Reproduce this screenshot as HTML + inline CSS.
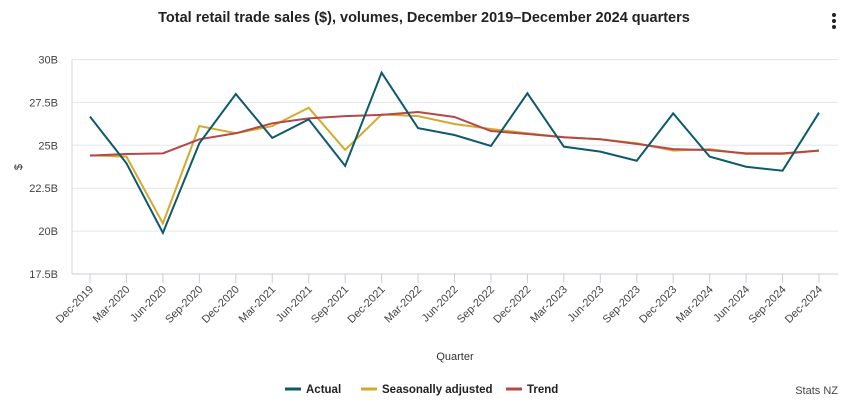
<!DOCTYPE html>
<html><head><meta charset="utf-8"><style>
body{margin:0;background:#fff;font-family:"Liberation Sans",sans-serif;}
svg text{font-family:"Liberation Sans",sans-serif;}
</style></head><body>
<svg width="848" height="400" xmlns="http://www.w3.org/2000/svg">
<text x="424" y="22" text-anchor="middle" font-size="14.5" font-weight="bold" fill="#222">Total retail trade sales ($), volumes, December 2019–December 2024 quarters</text>
<g fill="#222"><circle cx="834" cy="15" r="2"/><circle cx="834" cy="21" r="2"/><circle cx="834" cy="27" r="2"/></g>
<g id="grid"></g><g id="xaxis"></g><g id="series"></g>
<text x="22" y="167" transform="rotate(-90 22 167)" text-anchor="middle" font-size="11" fill="#333">$</text>
<text x="455" y="360" text-anchor="middle" font-size="11" fill="#333">Quarter</text>
<g font-size="11.5" font-weight="bold" fill="#222">
<g><line x1="285" y1="389" x2="301" y2="389" stroke="#0d5a6d" stroke-width="3"/><text x="306" y="393">Actual</text></g>
<g><line x1="361" y1="389" x2="377" y2="389" stroke="#d4aa2c" stroke-width="3"/><text x="382" y="393">Seasonally adjusted</text></g>
<g><line x1="506" y1="389" x2="522" y2="389" stroke="#b5474b" stroke-width="3"/><text x="527" y="393">Trend</text></g>
</g>
<text x="838" y="394" text-anchor="end" font-size="11" fill="#444">Stats NZ</text>
</svg>
<script>
const categories=["Dec-2019","Mar-2020","Jun-2020","Sep-2020","Dec-2020","Mar-2021","Jun-2021","Sep-2021","Dec-2021","Mar-2022","Jun-2022","Sep-2022","Dec-2022","Mar-2023","Jun-2023","Sep-2023","Dec-2023","Mar-2024","Jun-2024","Sep-2024","Dec-2024"];
const actual=[26.67,23.95,19.9,25.12,27.99,25.43,26.51,23.8,29.23,26.0,25.6,24.96,28.03,24.92,24.63,24.1,26.86,24.34,23.75,23.52,26.9];
const seasonal=[24.42,24.34,20.45,26.12,25.7,26.12,27.19,24.73,26.8,26.7,26.24,25.95,25.7,25.47,25.35,25.12,24.69,24.78,24.49,24.49,24.69];
const trend=[24.4,24.49,24.53,25.35,25.7,26.28,26.57,26.7,26.77,26.94,26.65,25.83,25.66,25.47,25.35,25.08,24.78,24.72,24.53,24.53,24.69];
const yTicks=[17.5,20,22.5,25,27.5,30];
const yTickLabels=["17.5B","20B","22.5B","25B","27.5B","30B"];
const NS="http://www.w3.org/2000/svg";
const x0=90,x1=819,yTop=59.5,yBot=274,yMin=17.5,yMax=30,left=72,right=838;
const xs=i=>x0+(x1-x0)*i/(categories.length-1);
const ys=v=>yBot-(v-yMin)/(yMax-yMin)*(yBot-yTop);
function mk(tag,attrs,parent){const e=document.createElementNS(NS,tag);for(const k in attrs)e.setAttribute(k,attrs[k]);parent.appendChild(e);return e;}
const grid=document.getElementById('grid');
yTicks.forEach((t,i)=>{
 const l=mk('line',{x1:left,x2:right,y1:ys(t),y2:ys(t),stroke:i==0?'#c8ccd6':'#e3e5ea','stroke-width':1},grid);
 
 
 const tx=mk('text',{x:left-14,y:ys(t)+4,'text-anchor':'end','font-size':11,fill:'#444'},grid);
 tx.textContent=yTickLabels[i];
 
 
});
const ya=mk('line',{x1:left,x2:left,y1:yTop,y2:yBot,stroke:'#d4d7de'},grid);


const xa=document.getElementById('xaxis');
categories.forEach((c,i)=>{
 const x=xs(i);
 const tk=mk('line',{x1:x,x2:x,y1:yBot,y2:yBot+9,stroke:'#c8ccd6'},xa);
 
 
 const t=mk('text',{x:x+4,y:yBot+16,'text-anchor':'end','font-size':11,fill:'#444',transform:`rotate(-45 ${x+4} ${yBot+16})`},xa);
 t.textContent=c;
 
 
});
const sg=document.getElementById('series');
[[seasonal,'#d4aa2c','seasonally-adjusted-line'],[trend,'#b5474b','trend-line'],[actual,'#0d5a6d','actual-line']].forEach(([d,col,name])=>{
 const p=mk('polyline',{points:d.map((v,i)=>xs(i)+','+ys(v)).join(' '),fill:'none',stroke:col,'stroke-width':2,'stroke-linejoin':'miter'},sg);
 
 
});
</script>
</body></html>
